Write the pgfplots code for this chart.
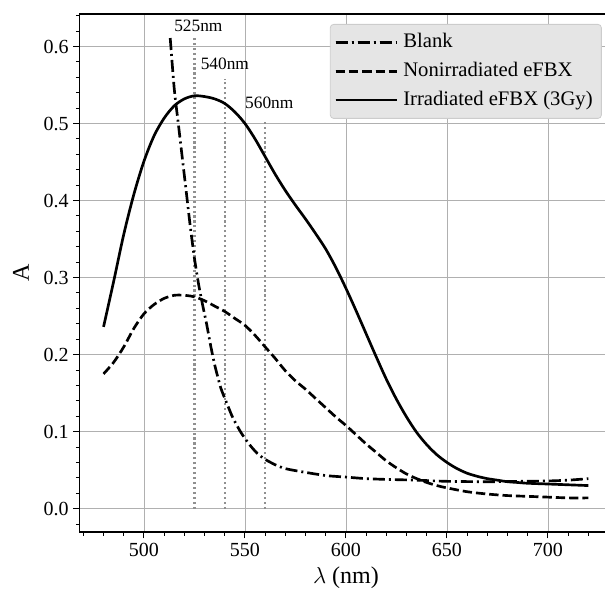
\documentclass[border=0pt]{standalone}
\usepackage{pgfplots}
\pgfplotsset{compat=1.18}
\usepackage{fontspec}
\setmainfont{Liberation Serif}
\definecolor{gridgray}{HTML}{B0B0B0}
\definecolor{leggray}{HTML}{E5E5E5}
\definecolor{legedge}{HTML}{CCCCCC}
\definecolor{dotgray}{HTML}{909090}
\begin{document}
\begin{tikzpicture}
\begin{axis}[
  scale only axis,
  width=400pt, height=388.7pt,
  xmin=468, xmax=732,
  ymin=-0.0306, ymax=0.6422,
  xtick={500,550,600,650,700},
  ytick={0,0.1,0.2,0.3,0.4,0.5,0.6},
  minor xtick={470,480,...,730},
  minor ytick={-0.02,0.02,0.04,0.06,0.08,0.12,0.14,0.16,0.18,0.22,0.24,0.26,0.28,0.32,0.34,0.36,0.38,0.42,0.44,0.46,0.48,0.52,0.54,0.56,0.58,0.62,0.64},
  tick pos=left,
  tick align=outside,
  major tick length=4.5pt,
  minor tick length=2.6pt,
  every tick/.style={black, line width=0.75pt},
  axis line style={black, line width=1.2pt},
  grid=major,
  major grid style={gridgray, line width=0.6pt},
  /pgf/number format/assume math mode=true,
  ticklabel style={font=\fontsize{15}{18}\selectfont},
  yticklabel style={/pgf/number format/.cd, fixed, fixed zerofill, precision=1},
  xticklabel style={/pgf/number format/.cd, fixed, precision=0},
  xlabel={$\lambda$ (nm)},
  ylabel={A},
  label style={font=\fontsize{18}{21}\selectfont},
  xlabel style={at={(rel axis cs:0.5,-0.088)}, anchor=center},
  ylabel style={at={(rel axis cs:-0.1093,0.5)}, anchor=center},
  legend style={at={(rel axis cs:0.9796,0.9807)}, anchor=north east,
    fill=leggray, draw=legedge, rounded corners=2.5pt, line width=0.6pt,
    font=\fontsize{15.5}{18}\selectfont,
    inner xsep=3pt, inner ysep=4.5pt, row sep=3pt,
    nodes={inner xsep=3.5pt, inner ysep=2pt, text height=11pt, text depth=3.5pt}},
  legend cell align=left,
  legend image code/.code={\path (0pt,0pt) -- (46.25pt,0pt); \draw[#1, sharp corners] (0pt,0pt) -- (41pt,0pt);},
]
% dotted reference lines
\addplot[dotgray, line width=1.6pt, dash pattern=on 1.6pt off 2.1pt, forget plot] coordinates {(525,0) (525,0.611)};
\addplot[dotgray, line width=1.6pt, dash pattern=on 1.6pt off 2.1pt, forget plot] coordinates {(540,0) (540,0.558)};
\addplot[dotgray, line width=1.6pt, dash pattern=on 1.6pt off 2.1pt, forget plot] coordinates {(560,0) (560,0.505)};

% Blank
\addplot[black, line width=2pt, smooth, tension=0.4, dash pattern=on 9pt off 3pt on 1.5pt off 3pt] coordinates {
(513,0.611) (515,0.545) (517,0.500) (519,0.455) (521,0.410) (523,0.365) (525,0.325)
(527,0.292) (529,0.265) (531,0.240) (533,0.212) (535,0.187) (538,0.157) (541,0.137)
(544,0.118) (548,0.099) (552,0.084) (556,0.072) (560,0.064) (565,0.057) (570,0.052)
(578,0.048) (590,0.043) (600,0.041) (610,0.039) (620,0.038) (635,0.037) (650,0.0355)
(670,0.035) (685,0.0355) (700,0.036) (710,0.037) (720,0.039)
};
\addlegendentry{Blank}

% Nonirradiated eFBX
\addplot[black, line width=2pt, smooth, tension=0.5, dash pattern=on 7pt off 3pt] coordinates {
(480,0.175) (485,0.190) (490,0.210) (495,0.234) (500,0.253) (505,0.265) (510,0.273)
(515,0.277) (520,0.277) (525,0.275) (530,0.270) (535,0.263) (540,0.256) (545,0.247)
(550,0.238) (555,0.225) (560,0.210) (565,0.195) (570,0.179) (575,0.166) (580,0.155)
(585,0.143) (590,0.131) (595,0.119) (600,0.108) (605,0.096) (610,0.084) (615,0.073)
(620,0.062) (625,0.053) (630,0.045) (635,0.039) (640,0.034) (645,0.030) (650,0.027)
(660,0.022) (670,0.019) (680,0.017) (690,0.016) (700,0.015) (710,0.014) (720,0.014)
};
\addlegendentry{Nonirradiated eFBX}

% Irradiated eFBX (3Gy)
\addplot[black, line width=2pt, smooth, tension=0.5] coordinates {
(480,0.236) (485,0.295) (490,0.356) (495,0.408) (500,0.451) (505,0.484) (510,0.507)
(515,0.523) (520,0.532) (525,0.536) (530,0.535) (535,0.532) (540,0.526) (545,0.515)
(550,0.500) (555,0.480) (560,0.457) (565,0.434) (570,0.413) (575,0.394) (580,0.376)
(585,0.357) (590,0.337) (595,0.313) (600,0.286) (605,0.257) (610,0.227) (615,0.197)
(620,0.168) (625,0.142) (630,0.119) (635,0.099) (640,0.083) (645,0.070) (650,0.060)
(655,0.052) (660,0.046) (665,0.042) (670,0.039) (675,0.037) (680,0.035) (685,0.034)
(690,0.033) (700,0.032) (710,0.031) (720,0.030)
};
\addlegendentry{Irradiated eFBX (3Gy)}

\node[anchor=base west, inner sep=0pt, font=\fontsize{13}{15}\selectfont] at (axis cs:514.9,0.6195) {525nm};
\node[anchor=base west, inner sep=0pt, font=\fontsize{13}{15}\selectfont] at (axis cs:528,0.570) {540nm};
\node[anchor=base west, inner sep=0pt, font=\fontsize{13}{15}\selectfont] at (axis cs:550,0.520) {560nm};

\coordinate (bbsw) at (rel axis cs:-0.1487,-0.1113);
\coordinate (bbne) at (rel axis cs:0.9857,1.027);
\end{axis}
\pgfresetboundingbox
\useasboundingbox (bbsw) rectangle (bbne);
\end{tikzpicture}
\end{document}
